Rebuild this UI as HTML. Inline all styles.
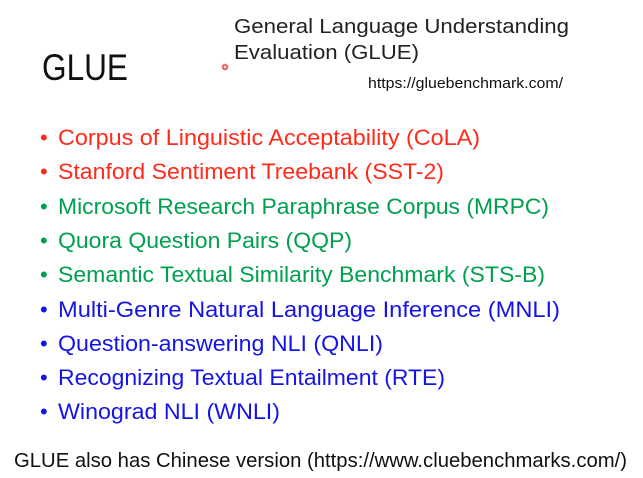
<!DOCTYPE html>
<html><head><meta charset="utf-8"><style>
html,body{margin:0;padding:0;background:#fff;width:643px;height:478px;overflow:hidden}
text{font-family:"Liberation Sans",sans-serif}
</style></head><body>
<svg width="643" height="478" viewBox="0 0 643 478">
<text x="42" y="80" font-size="37" fill="#111" textLength="86" lengthAdjust="spacingAndGlyphs">GLUE</text>
<text x="234" y="33" font-size="20" fill="#222" textLength="335" lengthAdjust="spacingAndGlyphs">General Language Understanding</text>
<text x="234" y="59" font-size="20" fill="#222" textLength="185" lengthAdjust="spacingAndGlyphs">Evaluation (GLUE)</text>
<text x="368" y="88" font-size="15" fill="#111" textLength="195" lengthAdjust="spacingAndGlyphs">https://gluebenchmark.com/</text>
<circle cx="225" cy="67" r="4" fill="#fdd"/>
<circle cx="225" cy="67" r="2.2" fill="none" stroke="#e02020" stroke-width="1.2"/>
<g font-size="22">
<g fill="#ff2a1a"><text x="40" y="145">•</text><text x="58" y="145" textLength="422" lengthAdjust="spacingAndGlyphs">Corpus of Linguistic Acceptability (CoLA)</text></g>
<g fill="#ff2a1a"><text x="40" y="179">•</text><text x="58" y="179" textLength="386" lengthAdjust="spacingAndGlyphs">Stanford Sentiment Treebank (SST-2)</text></g>
<g fill="#00a050"><text x="40" y="214">•</text><text x="58" y="214" textLength="491" lengthAdjust="spacingAndGlyphs">Microsoft Research Paraphrase Corpus (MRPC)</text></g>
<g fill="#00a050"><text x="40" y="248">•</text><text x="58" y="248" textLength="294" lengthAdjust="spacingAndGlyphs">Quora Question Pairs (QQP)</text></g>
<g fill="#00a050"><text x="40" y="282">•</text><text x="58" y="282" textLength="487" lengthAdjust="spacingAndGlyphs">Semantic Textual Similarity Benchmark (STS-B)</text></g>
<g fill="#1414e6"><text x="40" y="317">•</text><text x="58" y="317" textLength="502" lengthAdjust="spacingAndGlyphs">Multi-Genre Natural Language Inference (MNLI)</text></g>
<g fill="#1414e6"><text x="40" y="351">•</text><text x="58" y="351" textLength="325" lengthAdjust="spacingAndGlyphs">Question-answering NLI (QNLI)</text></g>
<g fill="#1414e6"><text x="40" y="385">•</text><text x="58" y="385" textLength="387" lengthAdjust="spacingAndGlyphs">Recognizing Textual Entailment (RTE)</text></g>
<g fill="#1414e6"><text x="40" y="419">•</text><text x="58" y="419" textLength="222" lengthAdjust="spacingAndGlyphs">Winograd NLI (WNLI)</text></g>
</g>
<text x="14" y="467" font-size="20" fill="#111" textLength="613" lengthAdjust="spacingAndGlyphs">GLUE also has Chinese version (https://www.cluebenchmarks.com/)</text>
</svg>
</body></html>
